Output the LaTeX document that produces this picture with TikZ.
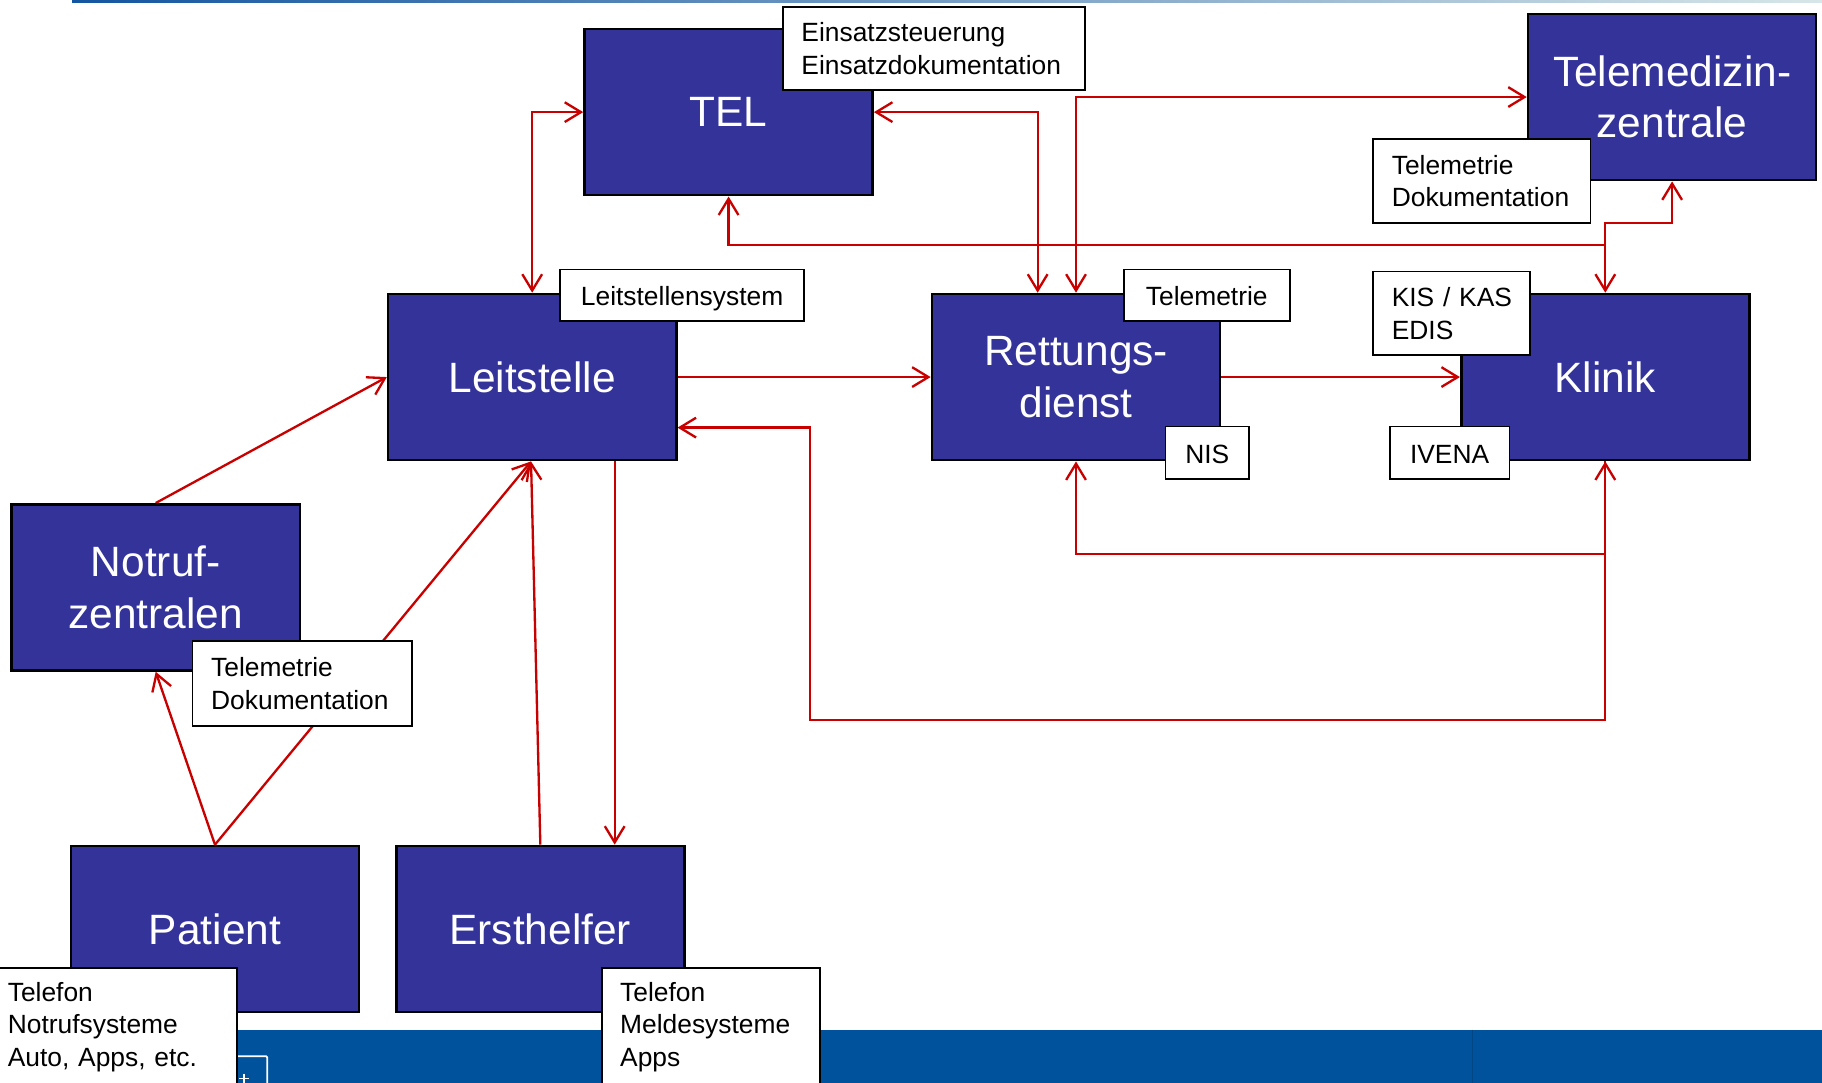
\documentclass[tikz,border=0pt]{standalone}
\usepackage{fontspec}
\setmainfont{Liberation Sans}
\usetikzlibrary{arrows.meta,calc}
\definecolor{boxblue}{RGB}{51,51,153}
\definecolor{linered}{RGB}{200,0,0}
\definecolor{barblue}{RGB}{0,82,156}
\definecolor{topdark}{RGB}{20,85,160}
\definecolor{topmid}{RGB}{120,170,190}
\definecolor{toplight}{RGB}{215,230,232}
\pgfdeclarelayer{back}
\pgfdeclarelayer{mid}
\pgfsetlayers{back,mid,main}
\tikzset{
  box/.style={draw=black, fill=boxblue, line width=2.2pt, minimum width=248pt, minimum height=143pt,
    inner sep=0pt, text=white, font=\fontsize{36.5}{44}\selectfont, align=center},
  lbl/.style={draw=black, fill=white, line width=1.5pt, inner sep=0pt, font=\fontsize{22.7}{28}\selectfont},
  lblone/.style={lbl, text height=18pt, text depth=0pt},
  lblml/.style={lbl, anchor=north west, inner xsep=16pt, inner ysep=0pt, align=left},
  conn/.style={draw=linered, line width=2pt},
  >={Straight Barb[length=14pt,width=17pt]}
}
\begin{document}
\begin{tikzpicture}[x=1pt,y=-1pt]
\useasboundingbox (0,0) rectangle (1568,932);
% boxes
\node[box] (tel) at (627,96.5) {TEL};
\node[box] (tmz) at (1439,83.5) {Telemedizin-\\zentrale};
\node[box] (leit) at (458,324.5) {Leitstelle};
\node[box] (rd) at (926,324.5) {Rettungs-\\dienst};
\node[box] (kl) at (1381.5,324.5) {Klinik};
\node[box] (nz) at (134,505.5) {Notruf-\\zentralen};
\node[box] (pat) at (185,799.5) {Patient};
\node[box] (eh) at (465,799.5) {Ersthelfer};
% labels
\node[lblml, text width=228pt, minimum height=72pt] (l1) at (673,5) {Einsatzsteuerung\\Einsatzdokumentation};
\node[lblml, text width=155pt, minimum height=72pt] (l2) at (1181,119) {Telemetrie\\Dokumentation};
\node[lblone, minimum width=210pt, minimum height=44pt] (l3) at (587,254) {Leitstellensystem};
\node[lblone, minimum width=143pt, minimum height=44pt] (l4) at (1038.5,254) {Telemetrie};
\node[lblml, text width=103pt, minimum height=72pt] (l5) at (1181,233) {KIS~/~KAS\\EDIS};
\node[lblone, minimum width=72pt, minimum height=45pt] (l6) at (1039,389.5) {NIS};
\node[lblone, minimum width=103pt, minimum height=45pt] (l7) at (1247.5,389.5) {IVENA};
\node[lblml, text width=157pt, minimum height=73pt] (l8) at (165,551) {Telemetrie\\Dokumentation};
\node[lblml, text width=181pt, minimum height=102pt] (l9) at (-10,832) {Telefon\\Notrufsysteme\\Auto, Apps, etc.};
\node[lblml, text width=156pt, minimum height=102pt] (l10) at (517,832) {Telefon\\Meldesysteme\\Apps};
% background
\begin{pgfonlayer}{back}
\fill[white] (0,0) rectangle (1568,932);
\shade[left color=topdark, middle color=topmid, right color=toplight] (62,0) rectangle (1568,2.5);
\fill[barblue] (0,886) rectangle (1568,932);
\draw[barblue!85!black, line width=1pt] (1267,886) -- (1267,932);
\draw[white, line width=1.5pt, rounded corners=1pt] (196,909) rectangle (230,942);
\draw[white, line width=1.2pt] (210,924) -- (210,932) (206,928) -- (214,928);
\end{pgfonlayer}
% connectors
\begin{pgfonlayer}{mid}
\draw[conn,<->] (leit.north) |- (tel.west);
\draw[conn,<->] (tel.east) -| ([xshift=-33pt]rd.north);
\draw[conn,<->] (rd.north) |- (tmz.west);
\coordinate (jn) at (1381.5,211);
\draw[conn,<->] (tel.south) |- (jn) -- (kl.north);
\draw[conn,->] (jn) -- ++(0,-19) -| (tmz.south);
\draw[conn,->] (leit.east) -- (rd.west);
\draw[conn,->] (rd.east) -- (kl.west);
\draw[conn,<->] (rd.south) -- ++(0,79.5) -| (kl.south);
\draw[conn,->] (kl.south) -- ++(0,222.5) -| (697,368) -- ([yshift=-43.5pt]leit.east);
\draw[conn,->] (nz.north) -- (leit.west);
\draw[conn,->] (pat.north) -- ([xshift=-1pt]leit.south);
\draw[conn,->] (pat.north) -- (nz.south);
\draw[conn,->] (eh.north) -- ([xshift=-1pt]leit.south);
\draw[conn,->] ([xshift=71pt]leit.south) -- ([xshift=64pt]eh.north);
\end{pgfonlayer}
\end{tikzpicture}
\end{document}
